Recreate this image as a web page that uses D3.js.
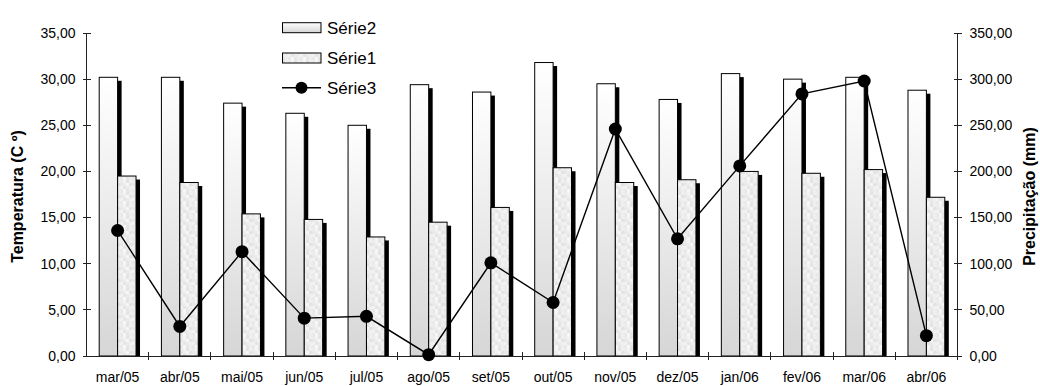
<!DOCTYPE html>
<html>
<head>
<meta charset="utf-8">
<script src="https://cdn.jsdelivr.net/npm/d3@7"></script>
<style>
  html, body { margin: 0; padding: 0; background: #fff; }
  svg { display: block; font-family: "Liberation Sans", Arial, sans-serif; }
</style>
</head>
<body>
<svg id="chart" width="1040" height="386"></svg>
<script>
// Monthly temperature (bars, left axis) and precipitation (line, right axis)
const categories = ["mar/05","abr/05","mai/05","jun/05","jul/05","ago/05","set/05","out/05","nov/05","dez/05","jan/06","fev/06","mar/06","abr/06"];
const serie2 = [30.2, 30.2, 27.4, 26.3, 25.0, 29.4, 28.6, 31.8, 29.5, 27.8, 30.6, 30.0, 30.2, 28.8];
const serie1 = [19.5, 18.8, 15.4, 14.8, 12.9, 14.5, 16.1, 20.4, 18.8, 19.1, 20.0, 19.8, 20.2, 17.2];
const serie3 = [136, 32, 113, 41, 43, 1.4, 101, 58, 246, 127, 206, 284, 298, 22];
const leftTicks = [0, 5, 10, 15, 20, 25, 30, 35];
const rightTicks = [0, 50, 100, 150, 200, 250, 300, 350];
const barSeries = ["Série2", "Série1"];
const legendItems = ["Série2", "Série1", "Série3"];
const leftTitle = "Temperatura (C º)";
const rightTitle = "Precipitação (mm)";

const locale = d3.formatLocale({ decimal: ",", thousands: ".", grouping: [3], currency: ["R$", ""] });
const fmt = locale.format(".2f");

const svg = d3.select("#chart");
const xLeft = 86.5, xRight = 957.5, yTop = 33, yBottom = 356;

const x = d3.scaleBand().domain(categories).range([xLeft, xRight]).paddingInner(0).paddingOuter(0);
const xSub = d3.scaleBand().domain(barSeries).range([0, x.bandwidth()]).paddingInner(0).paddingOuter(0.69);
const yL = d3.scaleLinear().domain([0, 35]).range([yBottom, yTop]);
const yR = d3.scaleLinear().domain([0, 350]).range([yBottom, yTop]);

// Fills: vertical gradient for Série2, speckled texture for Série1
const defs = svg.append("defs");
const grad = defs.append("linearGradient").attr("id", "gradS2")
  .attr("x1", 0).attr("y1", 0).attr("x2", 0).attr("y2", 1);
grad.append("stop").attr("offset", "0%").attr("stop-color", "#ffffff");
grad.append("stop").attr("offset", "100%").attr("stop-color", "#d6d6d6");

const speckle = [
  "#ececec","#f4f4f4","#e4e4e4","#efefef",
  "#e8e8e8","#ededed","#f6f6f6","#e3e3e3",
  "#f2f2f2","#e5e5e5","#ebebeb","#f0f0f0",
  "#e9e9e9","#f7f7f7","#e6e6e6","#eeeeee"
];
const pat = defs.append("pattern").attr("id", "patS1")
  .attr("patternUnits", "userSpaceOnUse").attr("width", 12).attr("height", 12);
pat.selectAll("rect").data(speckle).join("rect")
  .attr("x", (d, i) => (i % 4) * 3).attr("y", (d, i) => Math.floor(i / 4) * 3)
  .attr("width", 3).attr("height", 3).attr("fill", d => d);

const fills = { "Série2": "url(#gradS2)", "Série1": "url(#patS1)" };

// Bar records built from the data arrays
const bars = [];
categories.forEach((c, i) => {
  bars.push({ cat: c, s: "Série2", v: serie2[i] });
  bars.push({ cat: c, s: "Série1", v: serie1[i] });
});

const gBars = svg.append("g");
// drop shadows first
gBars.selectAll("rect.shadow").data(bars).join("rect").attr("class", "shadow")
  .attr("x", d => x(d.cat) + xSub(d.s) + 4)
  .attr("y", d => yL(d.v) + 3.5)
  .attr("width", xSub.bandwidth())
  .attr("height", d => Math.max(0, yL(0) - yL(d.v) - 3.5))
  .attr("fill", "#000");
gBars.selectAll("rect.bar").data(bars).join("rect").attr("class", "bar")
  .attr("x", d => x(d.cat) + xSub(d.s))
  .attr("y", d => yL(d.v))
  .attr("width", xSub.bandwidth())
  .attr("height", d => yL(0) - yL(d.v))
  .attr("fill", d => fills[d.s])
  .attr("stroke", "#000").attr("stroke-width", 1);

// Axes
const axisColor = "#222";
const gAx = svg.append("g").attr("stroke", axisColor).attr("stroke-width", 1).attr("shape-rendering", "crispEdges");
gAx.append("line").attr("x1", xLeft).attr("x2", xLeft).attr("y1", yTop).attr("y2", yBottom);
gAx.append("line").attr("x1", xRight).attr("x2", xRight).attr("y1", yTop).attr("y2", yBottom);
gAx.append("line").attr("x1", xLeft).attr("x2", xRight).attr("y1", yBottom).attr("y2", yBottom);
gAx.selectAll("line.lt").data(leftTicks).join("line").attr("class", "lt")
  .attr("x1", xLeft - 4).attr("x2", xLeft + 4).attr("y1", d => yL(d)).attr("y2", d => yL(d));
gAx.selectAll("line.rt").data(rightTicks).join("line").attr("class", "rt")
  .attr("x1", xRight - 4).attr("x2", xRight + 4).attr("y1", d => yR(d)).attr("y2", d => yR(d));
const boundaries = categories.slice(1).map(c => x(c)).concat([xRight]);
gAx.selectAll("line.xt").data(boundaries).join("line").attr("class", "xt")
  .attr("x1", d => d).attr("x2", d => d).attr("y1", yBottom - 4).attr("y2", yBottom + 4);

const gText = svg.append("g").attr("fill", "#000").style("font-size", "14px");
gText.selectAll("text.lt").data(leftTicks).join("text").attr("class", "lt")
  .attr("x", xLeft - 11).attr("y", d => yL(d)).attr("dy", "0.35em")
  .attr("text-anchor", "end").text(d => fmt(d));
gText.selectAll("text.rt").data(rightTicks).join("text").attr("class", "rt")
  .attr("x", xRight + 12).attr("y", d => yR(d)).attr("dy", "0.35em")
  .attr("text-anchor", "start").text(d => fmt(d));
gText.selectAll("text.xt").data(categories).join("text").attr("class", "xt")
  .attr("x", d => x(d) + x.bandwidth() / 2).attr("y", 382)
  .attr("text-anchor", "middle").text(d => d);

// Axis titles
svg.append("text").attr("transform", `translate(23,${(yTop + yBottom) / 2 + 2}) rotate(-90)`)
  .attr("text-anchor", "middle").style("font-size", "16px").style("font-weight", "bold").text(leftTitle);
svg.append("text").attr("transform", `translate(1035,${(yTop + yBottom) / 2 + 2}) rotate(-90)`)
  .attr("text-anchor", "middle").style("font-size", "16px").style("font-weight", "bold").text(rightTitle);

// Precipitation line with markers
const line = d3.line().x((d, i) => x(categories[i]) + x.bandwidth() / 2).y(d => yR(d));
svg.append("path").datum(serie3).attr("d", line)
  .attr("fill", "none").attr("stroke", "#000").attr("stroke-width", 1.4);
svg.append("g").selectAll("circle").data(serie3).join("circle")
  .attr("cx", (d, i) => x(categories[i]) + x.bandwidth() / 2)
  .attr("cy", d => yR(d)).attr("r", 6.5).attr("fill", "#000");

// Legend
const lg = svg.append("g");
const lgY = [27.7, 58, 87.7];
legendItems.forEach((name, i) => {
  const cy = lgY[i];
  if (name === "Série3") {
    lg.append("line").attr("x1", 282).attr("x2", 321).attr("y1", cy).attr("y2", cy)
      .attr("stroke", "#000").attr("stroke-width", 1.4);
    lg.append("circle").attr("cx", 301.5).attr("cy", cy).attr("r", 6).attr("fill", "#000");
  } else {
    lg.append("rect").attr("x", 282.5).attr("y", cy - 5).attr("width", 38.5).attr("height", 10)
      .attr("fill", fills[name]).attr("stroke", "#000").attr("stroke-width", 1);
  }
  lg.append("text").attr("x", 327).attr("y", cy).attr("dy", "0.36em")
    .style("font-size", "17px").attr("fill", "#000").text(name);
});
</script>
</body>
</html>
